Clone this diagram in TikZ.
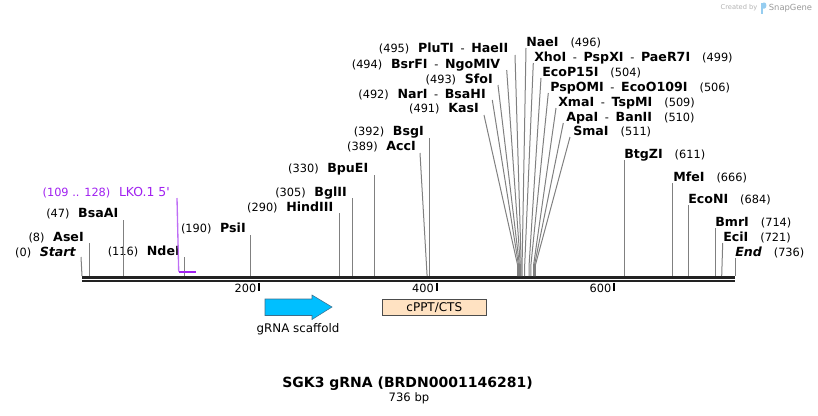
\documentclass[tikz,border=0pt]{standalone}
\usepackage{fontspec}
\setmainfont{DejaVu Sans}[Ligatures=TeXOff]
\usetikzlibrary{positioning}

\definecolor{bbdark}{RGB}{34,34,34}
\definecolor{sitegray}{RGB}{128,128,128}
\definecolor{featpurple}{RGB}{160,32,240}
\definecolor{featlilac}{RGB}{190,110,245}
\definecolor{scaffoldcyan}{RGB}{0,191,255}
\definecolor{scaffoldedge}{RGB}{60,110,140}
\definecolor{cpptfill}{RGB}{255,226,194}
\definecolor{logoblue}{RGB}{150,205,240}

\newcommand{\enz}[1]{{\fontsize{9.45}{11}\selectfont\bfseries #1}}
\newcommand{\enzi}[1]{{\fontsize{9.45}{11}\selectfont\bfseries\itshape #1}}
\newcommand{\dsh}{\hspace{5pt}-\hspace{5pt}}

\begin{document}
\begin{tikzpicture}[x=0.75pt,y=0.75pt,yscale=-1,
  lbl/.style={font=\fontsize{8.5}{10}\selectfont, inner sep=0pt, text height=7pt, text depth=2pt},
  site/.style={draw=sitegray, line width=0.75pt}]
\useasboundingbox (0,0) rectangle (818,415);

%Straight Lines [backbone]
\coordinate (bbL) at (82,277.5);
\coordinate (bbR) at (735,277.5);
\coordinate (bbL2) at (82,281.3);
\coordinate (bbR2) at (735,281.3);
\draw[draw=bbdark, line width=2.25pt] (bbL) -- (bbR);
\draw[draw=bbdark, line width=1.5pt] (bbL2) -- (bbR2);

%Straight Lines [ticks]
\coordinate (k200a) at (259.4,282.5); \coordinate (k200b) at (259.4,290.5);
\coordinate (k400a) at (436.9,282.5); \coordinate (k400b) at (436.9,290.5);
\coordinate (k600a) at (614.3,282.5); \coordinate (k600b) at (614.3,290.5);
\draw[line width=1.5pt] (k200a) -- (k200b);
\draw[line width=1.5pt] (k400a) -- (k400b);
\draw[line width=1.5pt] (k600a) -- (k600b);
\node[lbl, anchor=east] (n200) at (256.5,289.5) {200};
\node[lbl, anchor=east] (n400) at (434,289.5) {400};
\node[lbl, anchor=east] (n600) at (611.5,289.5) {600};

% Text Node [left labels]
\node[lbl, anchor=east] (lStart) at (76,253) {(0)\hspace{6.5pt}\enzi{Start}};
\node[lbl, anchor=east] (lAseI) at (84,238) {(8)\hspace{6.5pt}\enz{AseI}};
\node[lbl, anchor=east] (lBsaAI) at (118.5,214) {(47)\hspace{6.5pt}\enz{BsaAI}};
\node[lbl, anchor=east] (lNdeI) at (180,252) {(116)\hspace{6.5pt}\enz{NdeI}};
\node[lbl, anchor=east] (lPsiI) at (246,229) {(190)\hspace{6.5pt}\enz{PsiI}};
\node[lbl, anchor=east] (lHindIII) at (333.5,208) {(290)\hspace{6.5pt}\enz{HindIII}};
\node[lbl, anchor=east] (lBglII) at (347,193) {(305)\hspace{6.5pt}\enz{BglII}};
\node[lbl, anchor=east] (lBpuEI) at (368.5,169) {(330)\hspace{6.5pt}\enz{BpuEI}};
\node[lbl, anchor=east] (lAccI) at (416,147) {(389)\hspace{6.5pt}\enz{AccI}};
\node[lbl, anchor=east] (lBsgI) at (424,132) {(392)\hspace{6.5pt}\enz{BsgI}};
\node[lbl, anchor=east] (lKasI) at (479,109) {(491)\hspace{6.5pt}\enz{KasI}};
\node[lbl, anchor=east] (lNarI) at (486,95) {(492)\hspace{6.5pt}\enz{NarI}\dsh\enz{BsaHI}};
\node[lbl, anchor=east] (lSfoI) at (493,80) {(493)\hspace{6.5pt}\enz{SfoI}};
\node[lbl, anchor=east] (lBsrFI) at (500.5,65) {(494)\hspace{6.5pt}\enz{BsrFI}\dsh\enz{NgoMIV}};
\node[lbl, anchor=east] (lPluTI) at (508.5,49) {(495)\hspace{6.5pt}\enz{PluTI}\dsh\enz{HaeII}};

% Text Node [right labels]
\node[lbl, anchor=west] (lNaeI) at (526,43) {\enz{NaeI}\hspace{9pt}(496)};
\node[lbl, anchor=west] (lXhoI) at (534,58) {\enz{XhoI}\dsh\enz{PspXI}\dsh\enz{PaeR7I}\hspace{9pt}(499)};
\node[lbl, anchor=west] (lEcoP15I) at (542,73) {\enz{EcoP15I}\hspace{9pt}(504)};
\node[lbl, anchor=west] (lPspOMI) at (550,88) {\enz{PspOMI}\dsh\enz{EcoO109I}\hspace{9pt}(506)};
\node[lbl, anchor=west] (lXmaI) at (558,103) {\enz{XmaI}\dsh\enz{TspMI}\hspace{9pt}(509)};
\node[lbl, anchor=west] (lApaI) at (566,118) {\enz{ApaI}\dsh\enz{BanII}\hspace{9pt}(510)};
\node[lbl, anchor=west] (lSmaI) at (573,132) {\enz{SmaI}\hspace{9pt}(511)};
\node[lbl, anchor=west] (lBtgZI) at (624,155) {\enz{BtgZI}\hspace{9pt}(611)};
\node[lbl, anchor=west] (lMfeI) at (673,178) {\enz{MfeI}\hspace{9pt}(666)};
\node[lbl, anchor=west] (lEcoNI) at (688,200) {\enz{EcoNI}\hspace{9pt}(684)};
\node[lbl, anchor=west] (lBmrI) at (715,223) {\enz{BmrI}\hspace{9pt}(714)};
\node[lbl, anchor=west] (lEciI) at (723,238) {\enz{EciI}\hspace{9pt}(721)};
\node[lbl, anchor=west] (lEnd) at (735,253) {\enzi{End}\hspace{9pt}(736)};

%Straight Lines [single sites]
\coordinate (tStart) at (81,257);     \coordinate (sStart) at (82,276);
\coordinate (tAseI) at (89.1,243);    \coordinate (sAseI) at (89.1,276);
\coordinate (tBsaAI) at (123.7,220);  \coordinate (sBsaAI) at (123.7,276);
\coordinate (tNdeI) at (184.9,257);   \coordinate (sNdeI) at (184.9,276);
\coordinate (tPsiI) at (250.6,235);   \coordinate (sPsiI) at (250.6,276);
\coordinate (tHindIII) at (339.3,213); \coordinate (sHindIII) at (339.3,276);
\coordinate (tBglII) at (352.6,198);  \coordinate (sBglII) at (352.6,276);
\coordinate (tBpuEI) at (374.8,175);  \coordinate (sBpuEI) at (374.8,276);
\coordinate (tAccI) at (420,153);     \coordinate (sAccI) at (427.1,276);
\coordinate (tBsgI) at (429.8,138);   \coordinate (sBsgI) at (429.8,276);
\coordinate (tBtgZI) at (624.1,160);  \coordinate (sBtgZI) at (624.1,276);
\coordinate (tMfeI) at (672.9,183);   \coordinate (sMfeI) at (672.9,276);
\coordinate (tEcoNI) at (688.9,205);  \coordinate (sEcoNI) at (688.9,276);
\coordinate (tBmrI) at (715.5,228);   \coordinate (sBmrI) at (715.5,276);
\coordinate (tEciI) at (722.7,243);   \coordinate (sEciI) at (721.7,276);
\coordinate (tEnd) at (735,258);      \coordinate (sEnd) at (735,276);
\draw[site] (tStart) -- (sStart);
\draw[site] (tAseI) -- (sAseI);
\draw[site] (tBsaAI) -- (sBsaAI);
\draw[site] (tNdeI) -- (sNdeI);
\draw[site] (tPsiI) -- (sPsiI);
\draw[site] (tHindIII) -- (sHindIII);
\draw[site] (tBglII) -- (sBglII);
\draw[site] (tBpuEI) -- (sBpuEI);
\draw[site] (tAccI) -- (sAccI);
\draw[site] (tBsgI) -- (sBsgI);
\draw[site] (tBtgZI) -- (sBtgZI);
\draw[site] (tMfeI) -- (sMfeI);
\draw[site] (tEcoNI) -- (sEcoNI);
\draw[site] (tBmrI) -- (sBmrI);
\draw[site] (tEciI) -- (sEciI);
\draw[site] (tEnd) -- (sEnd);

%Straight Lines [fan 491 .. 511]
\coordinate (tKasI) at (484,115);    \coordinate (bKasI) at (517.6,265);  \coordinate (sKasI) at (517.6,276);
\coordinate (tNarI) at (492.3,100);  \coordinate (bNarI) at (518.5,265);  \coordinate (sNarI) at (518.5,276);
\coordinate (tSfoI) at (498,85);     \coordinate (bSfoI) at (519.4,265);  \coordinate (sSfoI) at (519.4,276);
\coordinate (tBsrFI) at (506.7,70);  \coordinate (bBsrFI) at (520.3,265); \coordinate (sBsrFI) at (520.3,276);
\coordinate (tPluTI) at (515,55);    \coordinate (bPluTI) at (521.2,265); \coordinate (sPluTI) at (521.2,276);
\coordinate (tNaeI) at (526,48);     \coordinate (bNaeI) at (522.1,265);  \coordinate (sNaeI) at (522.1,276);
\coordinate (tXhoI) at (533.3,63);   \coordinate (bXhoI) at (524.7,265);  \coordinate (sXhoI) at (524.7,276);
\coordinate (tEcoP15I) at (541,78);  \coordinate (bEcoP15I) at (529.1,265); \coordinate (sEcoP15I) at (529.1,276);
\coordinate (tPspOMI) at (548.3,93); \coordinate (bPspOMI) at (530.9,265); \coordinate (sPspOMI) at (530.9,276);
\coordinate (tXmaI) at (556,108);    \coordinate (bXmaI) at (533.6,265);  \coordinate (sXmaI) at (533.6,276);
\coordinate (tApaI) at (563.3,123);  \coordinate (bApaI) at (534.5,265);  \coordinate (sApaI) at (534.5,276);
\coordinate (tSmaI) at (570,137);    \coordinate (bSmaI) at (535.4,265);  \coordinate (sSmaI) at (535.4,276);
\draw[site] (tKasI) -- (bKasI) -- (sKasI);
\draw[site] (tNarI) -- (bNarI) -- (sNarI);
\draw[site] (tSfoI) -- (bSfoI) -- (sSfoI);
\draw[site] (tBsrFI) -- (bBsrFI) -- (sBsrFI);
\draw[site] (tPluTI) -- (bPluTI) -- (sPluTI);
\draw[site] (tNaeI) -- (bNaeI) -- (sNaeI);
\draw[site] (tXhoI) -- (bXhoI) -- (sXhoI);
\draw[site] (tEcoP15I) -- (bEcoP15I) -- (sEcoP15I);
\draw[site] (tPspOMI) -- (bPspOMI) -- (sPspOMI);
\draw[site] (tXmaI) -- (bXmaI) -- (sXmaI);
\draw[site] (tApaI) -- (bApaI) -- (sApaI);
\draw[site] (tSmaI) -- (bSmaI) -- (sSmaI);

%Straight Lines [LKO.1 5']
\node[lbl, anchor=east, text=featpurple] (lLKO) at (170,193) {(109 .. 128)\hspace{6.5pt}{\fontsize{9.3}{11}\selectfont LKO.1 5'}};
\coordinate (tLKO) at (177,198);
\coordinate (sLKO) at (178.7,271.5);
\coordinate (eLKO) at (195.6,271.5);
\draw[draw=featlilac, line width=1pt] (tLKO) -- (sLKO);
\draw[draw=featpurple, line width=1.5pt] (sLKO) -- (eLKO);

%Shape: Arrow [gRNA scaffold]
\draw[fill=scaffoldcyan, draw=scaffoldedge, line width=0.4pt] (265,299) -- (312,299) -- (312,295) -- (332,307) -- (312,319.5) -- (312,315.5) -- (265,315.5) -- cycle;
\node[font=\fontsize{8.9}{10}\selectfont, inner sep=0pt] (nScaffold) at (298,329) {gRNA scaffold};

%Shape: Rectangle [cPPT/CTS]
\draw[fill=cpptfill, draw=black!70, line width=0.5pt] (382,299.3) rectangle (486.7,315.3);
\node[font=\fontsize{9}{10}\selectfont, inner sep=0pt] (nCPPT) at (434.3,307.3) {cPPT/CTS};

% Text Node [title]
\node[font=\fontsize{10.5}{12}\selectfont\bfseries, inner sep=0pt] (nTitle) at (407.5,384) {SGK3 gRNA (BRDN0001146281)};
\node[font=\fontsize{8.7}{10}\selectfont, inner sep=0pt] (nLength) at (409,398.5) {736 bp};

% Text Node [watermark]
\node[font=\fontsize{5}{6}\selectfont, text=black!30, inner sep=0pt] (nCreated) at (739,8) {Created by};
\fill[logoblue] (760.5,2.5) rectangle (763,14);
\fill[logoblue] (763,2.5) -- (764.5,2.5) .. controls (767,2.5) and (767,8.5) .. (764.5,8.5) -- (763,8.5) -- cycle;
\node[font=\fontsize{6.3}{7}\selectfont, text=black!40, inner sep=0pt] (nSnapGene) at (790.5,8) {SnapGene};
\end{tikzpicture}
\end{document}
